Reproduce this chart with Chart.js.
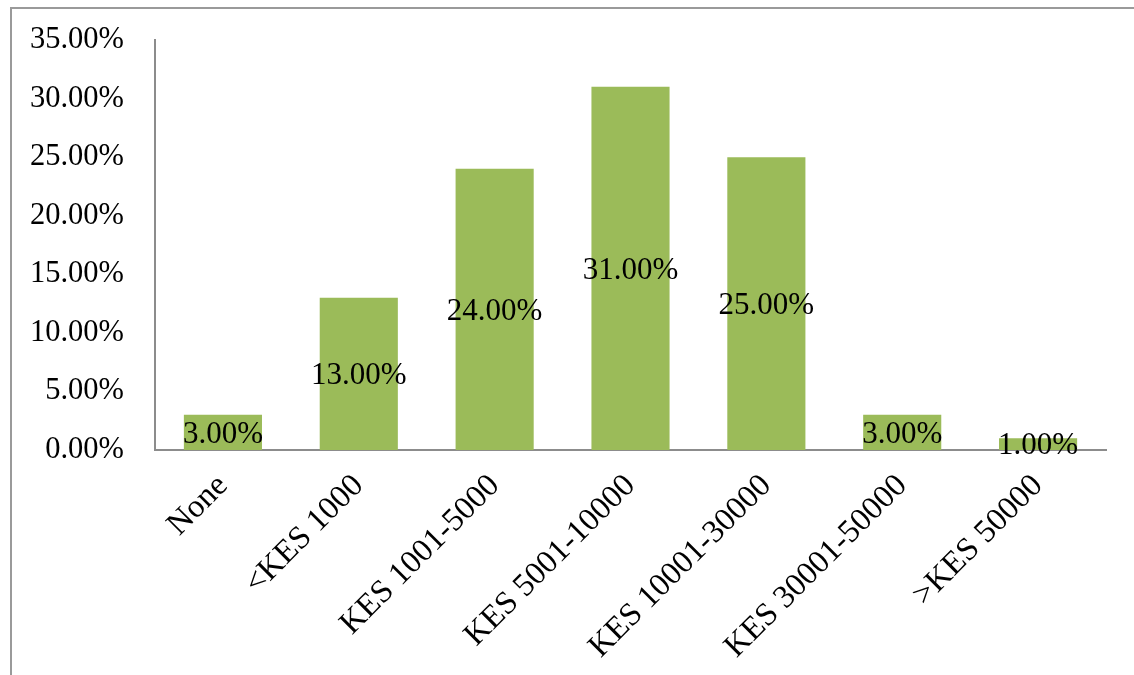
<!DOCTYPE html>
<html>
<head>
<meta charset="utf-8">
<script src="https://cdn.jsdelivr.net/npm/chart.js@4"></script>
<style>
    html, body { margin: 0; padding: 0; background: #fff; }
    #wrap { width: 1134px; height: 675px; }
</style>
</head>
<body>
<div id="wrap"><canvas id="incomeChart" width="1134" height="675"></canvas></div>
<script>
var categories = ['None', '<KES 1000', 'KES 1001-5000', 'KES 5001-10000', 'KES 10001-30000', 'KES 30001-50000', '>KES 50000'];
var shares = [3, 13, 24, 31, 25, 3, 1];
var yTicks = [0, 5, 10, 15, 20, 25, 30, 35];

var serif = "'Liberation Serif', 'Times New Roman', serif";

// outer frame, only the left and top edges fall inside the canvas
var framePlugin = {
    id: 'frame',
    beforeDraw: function (chart) {
        var ctx = chart.ctx;
        ctx.save();
        ctx.strokeStyle = '#9a9a9a';
        ctx.lineWidth = 2;
        ctx.beginPath();
        ctx.moveTo(11, 675);
        ctx.lineTo(11, 8);
        ctx.lineTo(1134, 8);
        ctx.stroke();
        ctx.restore();
    }
};

// percentage labels centred on each bar
var valueLabels = {
    id: 'valueLabels',
    afterDatasetsDraw: function (chart) {
        var ctx = chart.ctx;
        var meta = chart.getDatasetMeta(0);
        var yScale = chart.scales.y;
        ctx.save();
        ctx.font = '31px ' + serif;
        ctx.fillStyle = '#000';
        ctx.textAlign = 'center';
        ctx.textBaseline = 'middle';
        meta.data.forEach(function (bar, i) {
            var v = chart.data.datasets[0].data[i];
            var mid = (yScale.getPixelForValue(v) + yScale.getPixelForValue(0)) / 2;
            ctx.fillText(v.toFixed(2) + '%', bar.x, mid + 2);
        });
        ctx.restore();
    }
};

new Chart(document.getElementById('incomeChart').getContext('2d'), {
    type: 'bar',
    data: {
        labels: categories,
        datasets: [{
            data: shares,
            backgroundColor: '#9bbb59',
            categoryPercentage: 1,
            barPercentage: 0.575
        }]
    },
    options: {
        responsive: false,
        animation: false,
        layout: { padding: { top: 40, right: 28, left: 0, bottom: 0 } },
        plugins: {
            legend: { display: false },
            tooltip: { enabled: false }
        },
        scales: {
            x: {
                grid: { display: false, drawTicks: false },
                border: { display: true, color: '#8c8c8c', width: 2 },
                ticks: {
                    color: '#000',
                    font: { family: serif, size: 32.5 },
                    minRotation: 45,
                    maxRotation: 45,
                    padding: 17,
                    autoSkip: false
                },
                afterFit: function (scale) { scale.height = 225; }
            },
            y: {
                min: 0,
                max: 35,
                afterBuildTicks: function (scale) {
                    scale.ticks = yTicks.map(function (v) { return { value: v }; });
                },
                grid: { display: false, drawTicks: false },
                border: { display: true, color: '#8c8c8c', width: 2 },
                ticks: {
                    color: '#000',
                    font: { family: serif, size: 30.5 },
                    padding: 31,
                    callback: function (v) { return v.toFixed(2) + '%'; }
                },
                afterFit: function (scale) {
                    scale.width = 155;
                    scale.paddingTop = 0;
                    scale.paddingBottom = 0;
                }
            }
        }
    },
    plugins: [framePlugin, valueLabels]
});
</script>
</body>
</html>
